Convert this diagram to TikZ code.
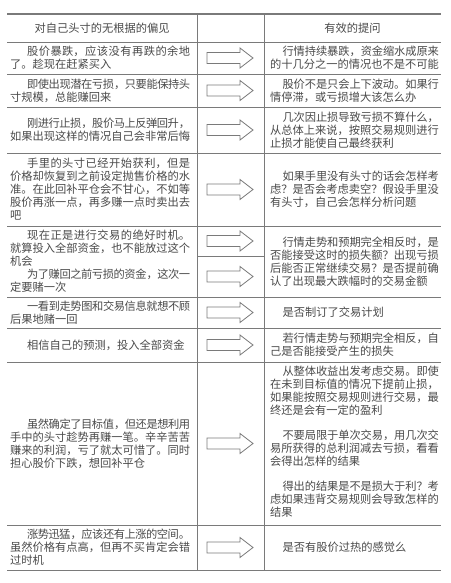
\documentclass[tikz,border=0pt]{standalone}
\usepackage{fontspec}
\setmainfont{Noto Sans CJK SC}
\XeTeXlinebreaklocale "zh"
\XeTeXlinebreakskip=0pt plus 1.5pt minus 0.8pt
\newcommand\cellfont{\fontsize{11.25pt}{13pt}\selectfont}
\newcommand\myind{\hspace*{1.5em}}
\newcommand\rind{\hspace*{1.1em}}
\newcommand\mybr{\linebreak}
\definecolor{rule}{HTML}{7A7A7A}
\definecolor{ink}{HTML}{4A4A4A}
\tikzset{
  lcell/.style={text width=180pt, align=justify, inner sep=0pt, anchor=west, font=\cellfont, text=ink},
  rcell/.style={text width=168.75pt, align=justify, inner sep=0pt, anchor=west, font=\cellfont, text=ink},
  headcell/.style={inner sep=0pt, font=\cellfont, text=ink},
  rulethin/.style={draw=rule, line width=0.7pt},
  rulethick/.style={draw=rule, line width=1.4pt},
  arrowline/.style={draw=rule, line width=0.8pt, line join=miter},
}
\newcommand\hollowarrow[1]{%
  \draw[arrowline] (207,#1-5.5) -- (240,#1-5.5) -- (240,#1-10) -- (253,#1)
    -- (240,#1+10) -- (240,#1+5.5) -- (207,#1+5.5) -- cycle;}
\begin{document}
\begin{tikzpicture}[x=1pt,y=-1pt]
\useasboundingbox[fill=white] (0,0) rectangle (450,583);
% headers
\node[headcell] (hl) at (102,28) {对自己头寸的无根据的偏见};
\node[headcell] (hr) at (352.5,28) {有效的提问};
% left column
\node[lcell] (l1) at (10,58) {\myind 股价暴跌，应该没有再跌的余地\mybr 了。趁现在赶紧买入};
\node[lcell] (l2) at (10,90.5) {\myind 即使出现潜在亏损，只要能保持头\mybr 寸规模，总能赚回来};
\node[lcell] (l3) at (10,130) {\myind 刚进行止损，股价马上反弹回升，\mybr 如果出现这样的情况自己会非常后悔};
\node[lcell] (l4) at (10,189.5) {\myind 手里的头寸已经开始获利，但是\mybr 价格却恢复到之前设定抛售价格的水\mybr 准。在此回补平仓会不甘心，不如等\mybr 股价再涨一点，再多赚一点时卖出去\mybr 吧};
\node[lcell] (l5) at (10,261.5) {\myind 现在正是进行交易的绝好时机。\mybr 就算投入全部资金，也不能放过这个\mybr 机会\par\myind 为了赚回之前亏损的资金，这次一\mybr 定要赌一次};
\node[lcell] (l6) at (10,312.5) {\myind 一看到走势图和交易信息就想不顾\mybr 后果地赌一回};
\node[lcell] (l7) at (10,345) {\myind 相信自己的预测，投入全部资金};
\node[lcell] (l8) at (10,443.5) {\myind 虽然确定了目标值，但还是想利用\mybr 手中的头寸趁势再赚一笔。辛辛苦苦\mybr 赚来的利润，亏了就太可惜了。同时\mybr 担心股价下跌，想回补平仓};
\node[lcell] (l9) at (10,547.5) {\myind 涨势迅猛，应该还有上涨的空间。\mybr 虽然价格有点高，但再不买肯定会错\mybr 过时机};
% right column
\node[rcell] (r1) at (270,58) {\rind 行情持续暴跌，资金缩水成原来\mybr 的十几分之一的情况也不是不可能};
\node[rcell] (r2) at (270,90.5) {\rind 股价不是只会上下波动。如果行\mybr 情停滞，或亏损增大该怎么办};
\node[rcell] (r3) at (270,130) {\rind 几次因止损导致亏损不算什么，\mybr 从总体上来说，按照交易规则进行\mybr 止损才能使自己最终获利};
\node[rcell] (r4) at (270,189.5) {\rind 如果手里没有头寸的话会怎样考\mybr 虑？是否会考虑卖空？假设手里没\mybr 有头寸，自己会怎样分析问题};
\node[rcell] (r5) at (270,261.5) {\rind 行情走势和预期完全相反时，是\mybr 否能接受这时的损失额？出现亏损\mybr 后能否正常继续交易？是否提前确\mybr 认了出现最大跌幅时的交易金额};
\node[rcell] (r6) at (270,312.5) {\rind 是否制订了交易计划};
\node[rcell] (r7) at (270,345) {\rind 若行情走势与预期完全相反，自\mybr 己是否能接受产生的损失};
\node[rcell, anchor=north west] (r8) at (270,366) {\rind 从整体收益出发考虑交易。即使\mybr 在未到目标值的情况下提前止损，\mybr 如果能按照交易规则进行交易，最\mybr 终还是会有一定的盈利\par\vspace{12pt}\rind 不要局限于单次交易，用几次交\mybr 易所获得的总利润减去亏损，看看\mybr 会得出怎样的结果\par\vspace{12pt}\rind 得出的结果是不是损大于利？考\mybr 虑如果违背交易规则会导致怎样的\mybr 结果};
\node[rcell] (r9) at (270,547.5) {\rind 是否有股价过热的感觉么};
% rules
\draw[rulethick] (7,14) -- (441,14);
\foreach \yy in {42,74,107,153,226,297,328,362,525}
  {\draw[rulethin] (7,\yy) -- (441,\yy);}
\draw[rulethin] (197,256) -- (264,256);
\draw[rulethin, line width=1pt] (7,570) -- (441,570);
\draw[rulethin] (197,14) -- (197,570);
\draw[rulethin] (264,14) -- (264,570);
% arrows
\foreach \yy in {58,90.5,130,189.5,241,276.5,312.5,345,443.5,547.5}
  {\hollowarrow{\yy}}
\end{tikzpicture}
\end{document}
